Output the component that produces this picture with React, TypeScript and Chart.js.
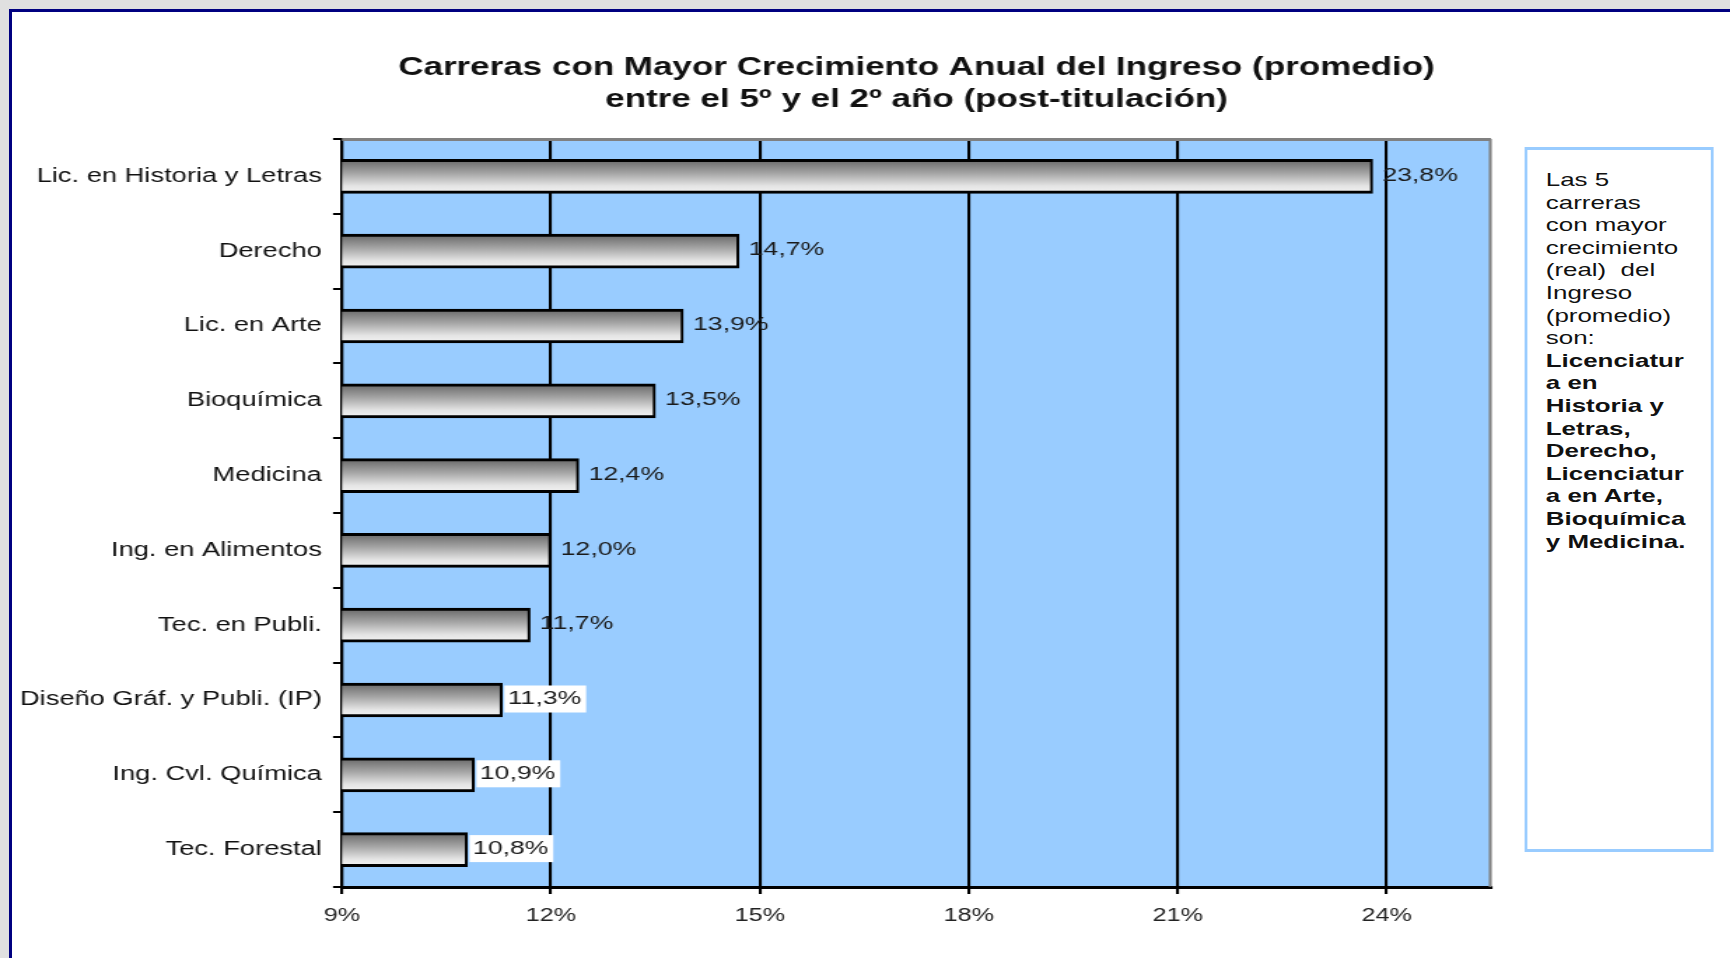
import React, { useEffect, useRef } from 'react';
import { Chart, registerables } from 'chart.js';

Chart.register(...registerables);

// ---------- data ----------
const categories = [
  'Lic. en Historia y Letras',
  'Derecho',
  'Lic. en Arte',
  'Bioquímica',
  'Medicina',
  'Ing. en Alimentos',
  'Tec. en Publi.',
  'Diseño Gráf. y Publi. (IP)',
  'Ing. Cvl. Química',
  'Tec. Forestal',
];
const values = [23.8, 14.7, 13.9, 13.5, 12.4, 12.0, 11.7, 11.3, 10.9, 10.8];
const valueLabels = ['23,8%', '14,7%', '13,9%', '13,5%', '12,4%', '12,0%', '11,7%', '11,3%', '10,9%', '10,8%'];
const labelBoxed = [false, false, false, false, false, false, false, true, true, true];
const xTicks = [9, 12, 15, 18, 21, 24];
const xMin = 9;
const xMax = 25.5;
const titleLines = [
  'Carreras con Mayor Crecimiento Anual del Ingreso (promedio)',
  'entre el 5º y el 2º año (post-titulación)',
];
const noteLines = [
  'Las 5',
  'carreras',
  'con mayor',
  'crecimiento',
  '(real)  del',
  'Ingreso',
  '(promedio)',
  'son:',
];
const noteBoldLines = [
  'Licenciatur',
  'a en',
  'Historia y',
  'Letras,',
  'Derecho,',
  'Licenciatur',
  'a en Arte,',
  'Bioquímica',
  'y Medicina.',
];

// ---------- layout ----------
const SX = 1.4;
const W0 = 1236;
const H = 958;
const FONT = "'Liberation Sans', Arial, Helvetica, sans-serif";

const plotBgPlugin = {
  id: 'plotBg',
  beforeDraw(chart: any) {
    const { ctx, chartArea: a } = chart;
    ctx.save();
    ctx.fillStyle = '#99CCFF';
    ctx.fillRect(a.left, a.top, a.right - a.left, a.bottom - a.top);
    ctx.restore();
  },
  beforeDatasetsDraw(chart: any) {
    const { ctx, chartArea: a } = chart;
    ctx.save();
    ctx.strokeStyle = '#808080';
    ctx.lineWidth = 3;
    ctx.beginPath();
    ctx.moveTo(a.left, a.top + 0.5);
    ctx.lineTo(a.right, a.top + 0.5);
    ctx.stroke();
    ctx.lineWidth = 2.1;
    ctx.beginPath();
    ctx.moveTo(a.right - 0.5, a.top);
    ctx.lineTo(a.right - 0.5, a.bottom);
    ctx.stroke();
    ctx.restore();
  },
};

const valueLabelPlugin = {
  id: 'valueLabels',
  afterDatasetsDraw(chart: any) {
    const ctx = chart.ctx;
    const meta = chart.getDatasetMeta(0);
    ctx.save();
    ctx.font = `19px ${FONT}`;
    ctx.textBaseline = 'middle';
    ctx.textAlign = 'left';
    meta.data.forEach((bar: any, i: number) => {
      const text = valueLabels[i];
      const w = ctx.measureText(text).width;
      const y = bar.y - 1;
      let tx = bar.x + 7;
      if (labelBoxed[i]) {
        ctx.fillStyle = '#ffffff';
        ctx.fillRect(bar.x + 1.5, y - 13.5, w + 6, 27);
        tx = bar.x + 4;
      }
      ctx.fillStyle = '#1a1a1a';
      ctx.fillText(text, tx, y);
    });
    ctx.restore();
  },
};

function barGradient(c: any) {
  const ch = c.chart;
  const ys = ch && ch.scales && ch.scales.y;
  if (!ys || c.type !== 'data') return '#aaaaaa';
  const p = ys.getPixelForValue(c.dataIndex);
  if (!Number.isFinite(p)) return '#aaaaaa';
  const g = ch.ctx.createLinearGradient(0, p - 17, 0, p + 17);
  g.addColorStop(0, '#666666');
  g.addColorStop(0.4, '#a4a4a4');
  g.addColorStop(0.78, '#e4e4e4');
  g.addColorStop(1, '#f4f4f4');
  return g;
}

function ChartCanvas() {
  const ref = useRef<HTMLCanvasElement | null>(null);
  useEffect(() => {
    if (!ref.current) return;
    const chart = new Chart(ref.current, {
      type: 'bar',
      data: {
        labels: categories,
        datasets: [
          {
            data: values,
            backgroundColor: barGradient,
            borderColor: '#000000',
            borderWidth: { top: 3, bottom: 3, right: 2.1, left: 0 },
            borderSkipped: false,
            barThickness: 34,
          },
        ],
      },
      options: {
        indexAxis: 'y',
        responsive: false,
        animation: false,
        devicePixelRatio: 1,
        layout: { padding: { left: 0, right: W0 - 1491 / SX, top: 0, bottom: 0 } },
        plugins: {
          legend: { display: false },
          tooltip: { enabled: false },
          title: {
            display: true,
            text: titleLines,
            fullSize: false,
            color: '#111111',
            font: { family: FONT, size: 25, weight: 'bold', lineHeight: 1.28 },
            padding: { top: 52, bottom: 23 },
          },
        },
        scales: {
          x: {
            type: 'linear',
            min: xMin,
            max: xMax,
            afterBuildTicks: (s: any) => {
              s.ticks = xTicks.map((v) => ({ value: v }));
            },
            afterFit: (s: any) => {
              s.height = H - 887;
            },
            ticks: {
              callback: (v: any) => `${v}%`,
              color: '#222222',
              font: { family: FONT, size: 18 },
              padding: 11,
              autoSkip: false,
              maxRotation: 0,
            },
            grid: {
              color: '#000000',
              lineWidth: 2.1,
              drawTicks: true,
              tickLength: 7,
              tickColor: '#000000',
            },
            border: { display: true, color: '#000000', width: 3 },
          },
          y: {
            type: 'category',
            position: 'left',
            afterFit: (s: any) => {
              s.width = 342 / SX;
            },
            ticks: {
              color: '#111111',
              font: { family: FONT, size: 19.5 },
              padding: 8,
              autoSkip: false,
            },
            grid: {
              offset: true,
              drawOnChartArea: false,
              drawTicks: true,
              tickLength: 6.4,
              color: '#000000',
              lineWidth: 2,
            },
            border: { display: true, color: '#000000', width: 2.2 },
          },
        },
      },
      plugins: [plotBgPlugin, valueLabelPlugin],
    } as any);
    return () => chart.destroy();
  }, []);
  return (
    <canvas
      ref={ref}
      width={W0}
      height={H}
      style={{ position: 'absolute', left: 0, top: 0, width: `${W0}px`, height: `${H}px` }}
    />
  );
}

export default function App() {
  const noteLeft = 1524 / SX;
  const noteWidth = (1713 - 1524) / SX;
  return (
    <div
      style={{
        position: 'fixed',
        left: 0,
        top: 0,
        width: '1730px',
        height: '958px',
        background: '#e0e0e0',
        overflow: 'hidden',
      }}
    >
      <div
        style={{
          position: 'absolute',
          left: '9px',
          top: '9px',
          right: 0,
          bottom: 0,
          background: '#ffffff',
          borderLeft: '3px solid #000080',
          borderTop: '3px solid #000080',
        }}
      />
      <div
        style={{
          position: 'absolute',
          left: 0,
          top: 0,
          width: `${W0}px`,
          height: `${H}px`,
          transform: `scaleX(${SX})`,
          transformOrigin: '0 0',
        }}
      >
        <ChartCanvas />
        <div
          style={{
            position: 'absolute',
            left: `${noteLeft}px`,
            top: '147px',
            width: `${noteWidth}px`,
            height: `${852 - 147}px`,
            boxSizing: 'border-box',
            borderLeft: `${3 / SX}px solid #99CCFF`,
            borderRight: `${3 / SX}px solid #99CCFF`,
            borderTop: '3px solid #99CCFF',
            borderBottom: '3px solid #99CCFF',
            background: '#ffffff',
            paddingLeft: `${(1546 - 1524) / SX - 3 / SX}px`,
            paddingTop: '19px',
            fontFamily: FONT,
            fontSize: '18.5px',
            lineHeight: '22.6px',
            color: '#111111',
            whiteSpace: 'pre',
          }}
        >
          {noteLines.map((l, i) => (
            <div key={'n' + i}>{l}</div>
          ))}
          {noteBoldLines.map((l, i) => (
            <div key={'b' + i} style={{ fontWeight: 'bold' }}>
              {l}
            </div>
          ))}
        </div>
      </div>
    </div>
  );
}
